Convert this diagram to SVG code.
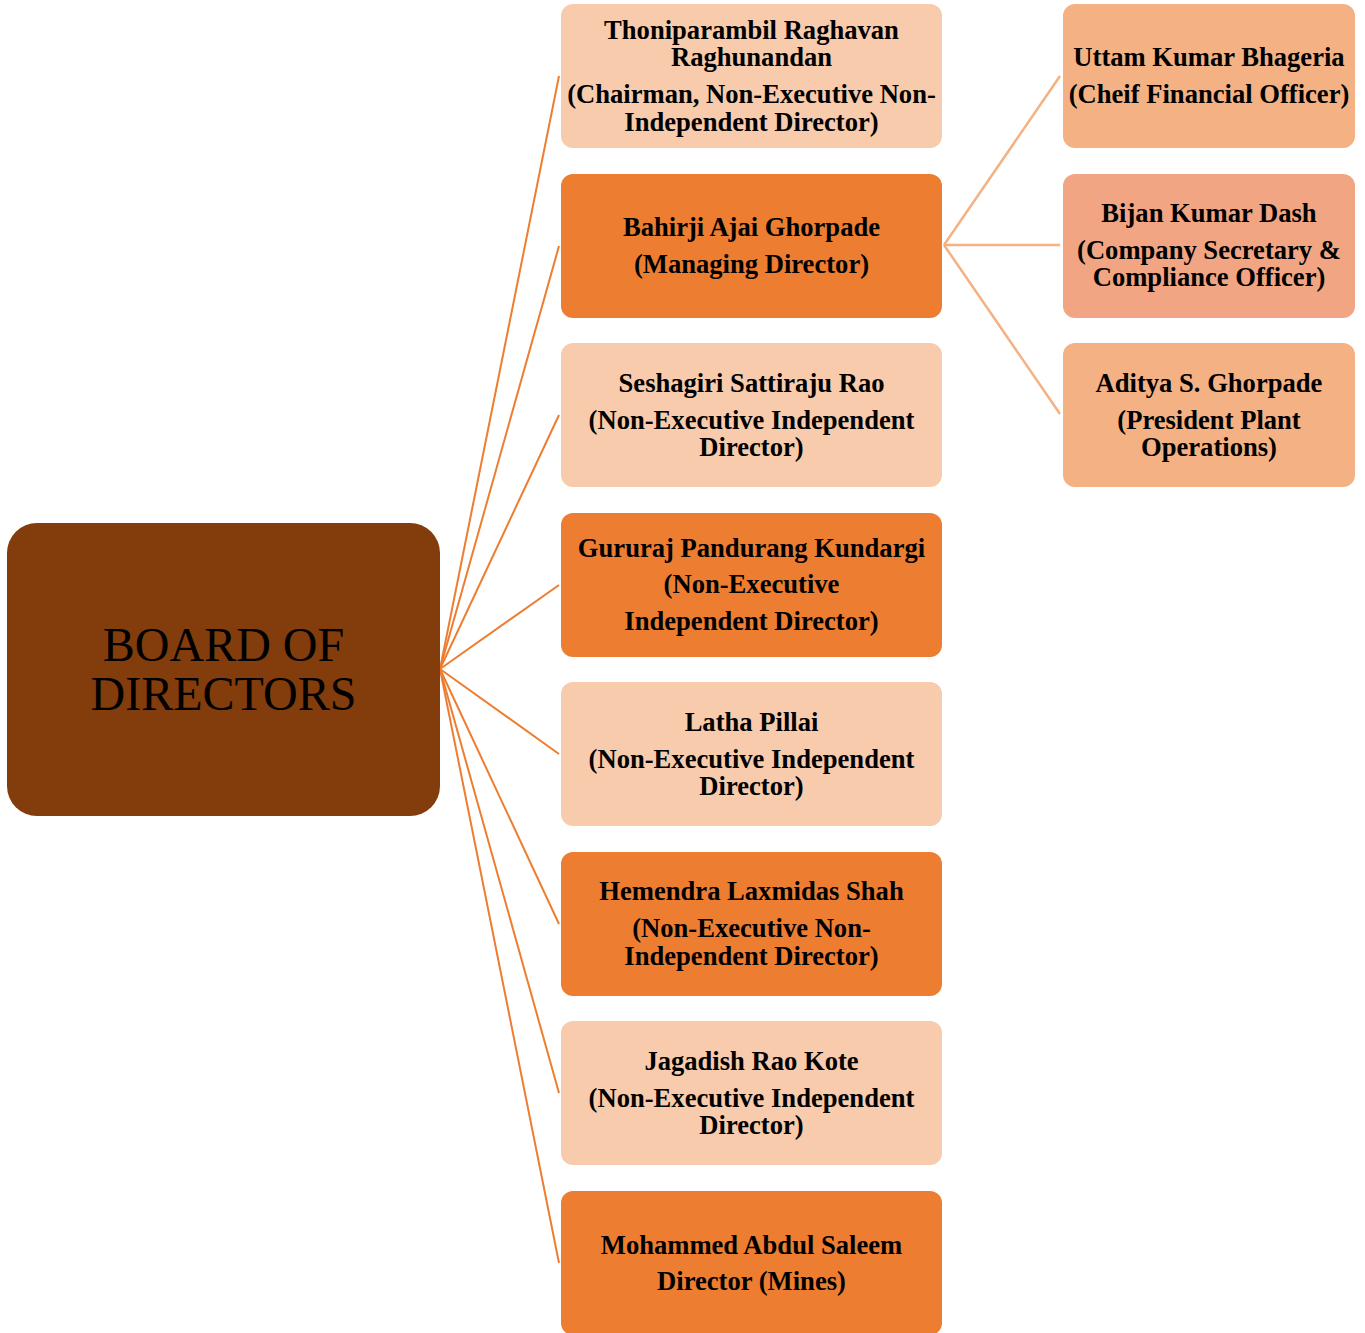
<svg xmlns="http://www.w3.org/2000/svg" width="1365" height="1333" viewBox="0 0 1365 1333">
<style>
.t{font-family:"Liberation Serif","Times New Roman",serif;font-weight:bold;font-size:26.6px;fill:#000;text-anchor:middle}
.root{font-family:"Liberation Serif","Times New Roman",serif;font-size:48px;fill:#000;text-anchor:middle}
.light{fill:#F7CBAC}
.dark{fill:#ED7D31}
.peach{fill:#F4B183}
.salmon{fill:#F1A582}
.c1{stroke:#ED7D31;stroke-width:2;fill:none}
.c2{stroke:#F4B183;stroke-width:2.5;fill:none}
</style>
<rect width="1365" height="1333" fill="#fff"/>
<g id="connectors">
<line class="c1" x1="440" y1="669" x2="559" y2="76"/>
<line class="c1" x1="440" y1="669" x2="559" y2="246"/>
<line class="c1" x1="440" y1="669" x2="559" y2="415"/>
<line class="c1" x1="440" y1="669" x2="559" y2="585"/>
<line class="c1" x1="440" y1="669" x2="559" y2="754"/>
<line class="c1" x1="440" y1="669" x2="559" y2="924"/>
<line class="c1" x1="440" y1="669" x2="559" y2="1093"/>
<line class="c1" x1="440" y1="669" x2="559" y2="1263"/>
<line class="c2" x1="944" y1="245" x2="1060" y2="76"/>
<line class="c2" x1="944" y1="245" x2="1060" y2="245"/>
<line class="c2" x1="944" y1="245" x2="1060" y2="414"/>
</g>
<g id="root">
<rect x="7" y="523" width="433" height="293" rx="30" fill="#833C0B"/>
<text class="root" x="223.5" y="661">BOARD OF</text>
<text class="root" x="223.5" y="710">DIRECTORS</text>
</g>
<g id="n1">
<rect class="light" x="561" y="4" width="381" height="144" rx="12"/>
<text class="t" x="751.5" y="39">Thoniparambil Raghavan</text>
<text class="t" x="751.5" y="66">Raghunandan</text>
<text class="t" x="751.5" y="103">(Chairman, Non-Executive Non-</text>
<text class="t" x="751.5" y="131">Independent Director)</text>
</g>
<g id="n2">
<rect class="dark" x="561" y="174" width="381" height="144" rx="12"/>
<text class="t" x="751.5" y="236">Bahirji Ajai Ghorpade</text>
<text class="t" x="751.5" y="273">(Managing Director)</text>
</g>
<g id="n3">
<rect class="light" x="561" y="343" width="381" height="144" rx="12"/>
<text class="t" x="751.5" y="392">Seshagiri Sattiraju Rao</text>
<text class="t" x="751.5" y="429">(Non-Executive Independent</text>
<text class="t" x="751.5" y="456">Director)</text>
</g>
<g id="n4">
<rect class="dark" x="561" y="513" width="381" height="144" rx="12"/>
<text class="t" x="751.5" y="557">Gururaj Pandurang Kundargi</text>
<text class="t" x="751.5" y="593">(Non-Executive</text>
<text class="t" x="751.5" y="630">Independent Director)</text>
</g>
<g id="n5">
<rect class="light" x="561" y="682" width="381" height="144" rx="12"/>
<text class="t" x="751.5" y="731">Latha Pillai</text>
<text class="t" x="751.5" y="768">(Non-Executive Independent</text>
<text class="t" x="751.5" y="795">Director)</text>
</g>
<g id="n6">
<rect class="dark" x="561" y="852" width="381" height="144" rx="12"/>
<text class="t" x="751.5" y="900">Hemendra Laxmidas Shah</text>
<text class="t" x="751.5" y="937">(Non-Executive Non-</text>
<text class="t" x="751.5" y="965">Independent Director)</text>
</g>
<g id="n7">
<rect class="light" x="561" y="1021" width="381" height="144" rx="12"/>
<text class="t" x="751.5" y="1070">Jagadish Rao Kote</text>
<text class="t" x="751.5" y="1107">(Non-Executive Independent</text>
<text class="t" x="751.5" y="1134">Director)</text>
</g>
<g id="n8">
<rect class="dark" x="561" y="1191" width="381" height="144" rx="12"/>
<text class="t" x="751.5" y="1254">Mohammed Abdul Saleem</text>
<text class="t" x="751.5" y="1290">Director (Mines)</text>
</g>
<g id="r1">
<rect class="peach" x="1063" y="4" width="292" height="144" rx="12"/>
<text class="t" x="1209" y="66">Uttam Kumar Bhageria</text>
<text class="t" x="1209" y="103">(Cheif Financial Officer)</text>
</g>
<g id="r2">
<rect class="salmon" x="1063" y="174" width="292" height="144" rx="12"/>
<text class="t" x="1209" y="222">Bijan Kumar Dash</text>
<text class="t" x="1209" y="259">(Company Secretary &amp;</text>
<text class="t" x="1209" y="286">Compliance Officer)</text>
</g>
<g id="r3">
<rect class="peach" x="1063" y="343" width="292" height="144" rx="12"/>
<text class="t" x="1209" y="392">Aditya S. Ghorpade</text>
<text class="t" x="1209" y="429">(President Plant</text>
<text class="t" x="1209" y="456">Operations)</text>
</g>
</svg>
